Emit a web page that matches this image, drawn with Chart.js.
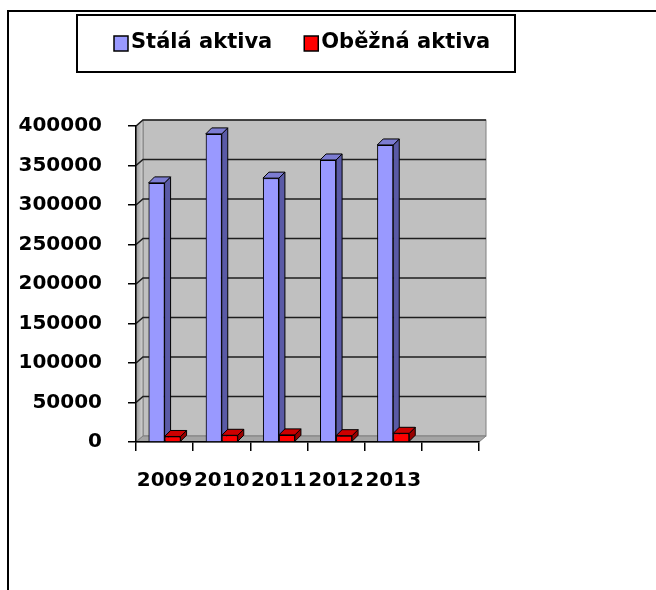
<!DOCTYPE html>
<html>
<head>
<meta charset="utf-8">
<script src="https://cdn.jsdelivr.net/npm/chart.js@4.4.1/dist/chart.umd.min.js"></script>
<style>
  html, body { margin: 0; padding: 0; background: #fff; }
</style>
</head>
<body>
<canvas id="assetsChart" width="656" height="590"></canvas>
<script>
// data
const years = ['2009', '2010', '2011', '2012', '2013', ''];
const staleAktiva = [328000, 390000, 334000, 357000, 376000, null];
const obezneAktiva = [7000, 8500, 9000, 8000, 11000, null];
const seriesNames = ['Stálá aktiva', 'Oběžná aktiva'];
const yMax = 400000;
const yStep = 50000;

const FONT = { family: 'DejaVu Sans', size: 20, weight: 'bold' };
const WALL_DX = 7, WALL_DY = 6;   // depth of the 3d walls
const BAR_DX = 6, BAR_DY = 6;     // depth of the columns

const colors = [
    { front: '#9999ff', side: '#5a5aa6', top: '#7c7cd2' },
    { front: '#ff0000', side: '#990000', top: '#cc0000' }
];

function poly(ctx, pts, fill) {
    ctx.beginPath();
    ctx.moveTo(pts[0][0], pts[0][1]);
    for (let i = 1; i < pts.length; i++) ctx.lineTo(pts[i][0], pts[i][1]);
    ctx.closePath();
    ctx.fillStyle = fill;
    ctx.fill();
    ctx.stroke();
}

// back wall, side wall, floor and gridlines (drawn before the axes)
const wallsPlugin = {
    id: 'walls',
    beforeDraw(chart) {
        const { ctx, chartArea: a, scales: { y } } = chart;
        ctx.save();
        ctx.strokeStyle = '#808080';
        ctx.lineWidth = 1;
        ctx.fillStyle = '#c0c0c0';
        ctx.fillRect(a.left + WALL_DX, a.top - WALL_DY, a.width, a.height);
        ctx.strokeRect(a.left + WALL_DX, a.top - WALL_DY, a.width, a.height);

        const g = ctx.createLinearGradient(a.left, 0, a.left + WALL_DX, 0);
        g.addColorStop(0, '#9a9a9a');
        g.addColorStop(1, '#d4d4d4');
        poly(ctx, [[a.left, a.top], [a.left + WALL_DX, a.top - WALL_DY],
                   [a.left + WALL_DX, a.bottom - WALL_DY], [a.left, a.bottom]], g);
        poly(ctx, [[a.left, a.bottom], [a.left + WALL_DX, a.bottom - WALL_DY],
                   [a.right + WALL_DX, a.bottom - WALL_DY], [a.right, a.bottom]], '#a4a4a4');

        ctx.strokeStyle = '#1e1e1e';
        ctx.lineWidth = 1.6;
        y.ticks.forEach(t => {
            if (t.value === 0) return;
            const py = y.getPixelForValue(t.value);
            ctx.beginPath();
            ctx.moveTo(a.left, py);
            ctx.lineTo(a.left + WALL_DX, py - WALL_DY);
            ctx.lineTo(a.right + WALL_DX, py - WALL_DY);
            ctx.stroke();
        });
        ctx.restore();
    }
};

// side and top faces of the columns, then the front again
const columnsPlugin = {
    id: 'columns',
    afterDatasetsDraw(chart) {
        const ctx = chart.ctx;
        ctx.save();
        ctx.strokeStyle = '#000';
        ctx.lineWidth = 1;
        ctx.lineJoin = 'round';
        chart.data.datasets.forEach((ds, di) => {
            const meta = chart.getDatasetMeta(di);
            meta.data.forEach((el, i) => {
                if (ds.data[i] == null) return;
                const { x, y, base, width } = el.getProps(['x', 'y', 'base', 'width'], true);
                const l = x - width / 2, r = x + width / 2;
                poly(ctx, [[r, y], [r + BAR_DX, y - BAR_DY], [r + BAR_DX, base - BAR_DY], [r, base]], colors[di].side);
                poly(ctx, [[l, y], [l + BAR_DX, y - BAR_DY], [r + BAR_DX, y - BAR_DY], [r, y]], colors[di].top);
                el.draw(ctx);
            });
        });
        ctx.restore();
    }
};

// boxed legend and the outer frame
const frameLegendPlugin = {
    id: 'frameLegend',
    afterDraw(chart) {
        const ctx = chart.ctx;
        ctx.save();
        ctx.strokeStyle = '#000';
        ctx.lineWidth = 2;
        ctx.beginPath();
        ctx.moveTo(656, 11);
        ctx.lineTo(8, 11);
        ctx.lineTo(8, 590);
        ctx.stroke();

        ctx.strokeRect(77, 15, 438, 57);

        ctx.font = `${FONT.weight} 21px "${FONT.family}"`;
        ctx.textBaseline = 'middle';
        ctx.textAlign = 'left';
        let lx = 114;
        chart.data.datasets.forEach((ds, di) => {
            ctx.lineWidth = 1.5;
            ctx.fillStyle = colors[di].front;
            ctx.fillRect(lx, 36, 14, 15);
            ctx.strokeRect(lx, 36, 14, 15);
            ctx.fillStyle = '#000';
            ctx.fillText(ds.label, lx + 17, 43);
            lx += 17 + ctx.measureText(ds.label).width + 32;
        });
        ctx.restore();
    }
};

new Chart(document.getElementById('assetsChart'), {
    type: 'bar',
    data: {
        labels: years,
        datasets: [
            {
                label: seriesNames[0],
                data: staleAktiva,
                backgroundColor: colors[0].front,
                borderColor: '#000',
                borderWidth: 1
            },
            {
                label: seriesNames[1],
                data: obezneAktiva,
                backgroundColor: colors[1].front,
                borderColor: '#000',
                borderWidth: 1
            }
        ]
    },
    options: {
        responsive: false,
        animation: false,
        events: [],
        categoryPercentage: 0.56,
        barPercentage: 1,
        layout: { padding: { top: 126, right: 177, left: 0, bottom: 0 } },
        plugins: {
            legend: { display: false },
            tooltip: { enabled: false }
        },
        scales: {
            x: {
                offset: true,
                afterFit: s => { s.height = 148; },
                grid: { display: true, offset: true, drawOnChartArea: false, tickLength: 9, color: '#000', lineWidth: 1.5 },
                border: { display: true, color: '#000', width: 1.5 },
                ticks: { color: '#000', font: FONT, padding: 18, maxRotation: 0, autoSkip: false }
            },
            y: {
                min: 0,
                max: yMax,
                afterFit: s => { s.width = 136; },
                grid: { display: true, drawOnChartArea: false, tickLength: 8, color: '#000', lineWidth: 1.5 },
                border: { display: true, color: '#000', width: 1.5 },
                ticks: { stepSize: yStep, color: '#000', font: FONT, padding: 26, callback: v => String(v) }
            }
        }
    },
    plugins: [wallsPlugin, columnsPlugin, frameLegendPlugin]
});
</script>
</body>
</html>
